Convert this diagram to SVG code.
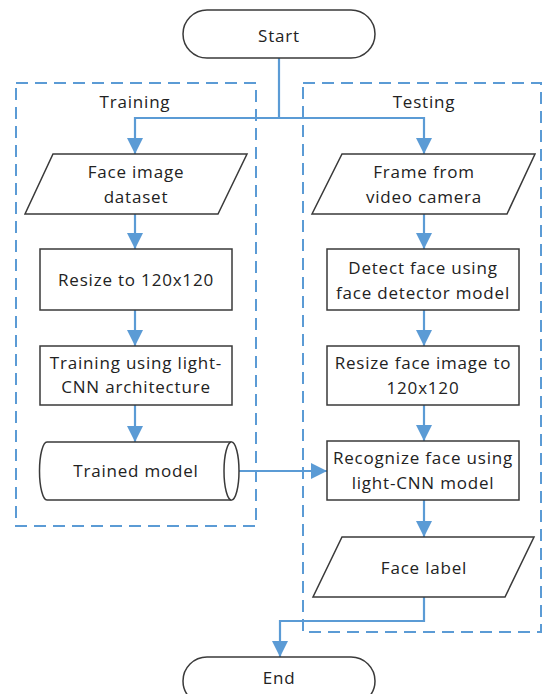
<svg xmlns="http://www.w3.org/2000/svg" width="544" height="694" viewBox="0 0 544 694">
  <defs>
    <marker id="arrow" markerUnits="userSpaceOnUse" markerWidth="16" markerHeight="16" viewBox="0 0 16 16" refX="16" refY="8" orient="auto">
      <path d="M0,0 L16,8 L0,16 Z" fill="#5B9BD5"/>
    </marker>
    <style>
      .shape { fill: #ffffff; stroke: #3a3a3a; stroke-width: 1.5; }
      .group { fill: none; stroke: #5B9BD5; stroke-width: 2; stroke-dasharray: 12 7; }
      .conn { fill: none; stroke: #5B9BD5; stroke-width: 2.2; }
      .label { font-family: "Open Sans", "Liberation Sans", sans-serif; font-size: 17px; letter-spacing: 0.8px; fill: #222222; text-anchor: middle; }
    </style>
  </defs>
  <rect width="544" height="694" fill="#ffffff"/>

  <!-- swimlane frames -->
  <g id="training-group">
    <rect class="group" x="16" y="83" width="240" height="443"/>
    <text class="label" x="135" y="108">Training</text>
  </g>
  <g id="testing-group">
    <rect class="group" x="303" y="83" width="238" height="549"/>
    <text class="label" x="424" y="108">Testing</text>
  </g>

  <!-- connectors -->
  <g id="connectors">
    <path class="conn" d="M279,58 V118 H135 V154" marker-end="url(#arrow)"/>
    <path class="conn" d="M279,118 H424 V154" marker-end="url(#arrow)"/>
    <path class="conn" d="M135,214 V249" marker-end="url(#arrow)"/>
    <path class="conn" d="M135,310 V346" marker-end="url(#arrow)"/>
    <path class="conn" d="M135,405 V442" marker-end="url(#arrow)"/>
    <path class="conn" d="M424,214 V249" marker-end="url(#arrow)"/>
    <path class="conn" d="M424,310 V346" marker-end="url(#arrow)"/>
    <path class="conn" d="M424,405 V441" marker-end="url(#arrow)"/>
    <path class="conn" d="M424,500 V537" marker-end="url(#arrow)"/>
    <path class="conn" d="M239,471 H327" marker-end="url(#arrow)"/>
    <path class="conn" d="M424,597 V621 H280 V657" marker-end="url(#arrow)"/>
  </g>

  <!-- terminals -->
  <g id="start">
    <rect class="shape" x="183" y="10" width="192" height="48" rx="24" ry="24"/>
    <text class="label" x="279" y="42">Start</text>
  </g>
  <g id="end">
    <rect class="shape" x="183" y="657" width="192" height="48" rx="24" ry="24"/>
    <text class="label" x="279" y="684">End</text>
  </g>

  <!-- training branch -->
  <g id="face-image-dataset">
    <polygon class="shape" points="53,154 247,154 218,214 25,214"/>
    <text class="label" x="136" y="178">Face image</text>
    <text class="label" x="136" y="203">dataset</text>
  </g>
  <g id="resize-train">
    <rect class="shape" x="40" y="249" width="192" height="61"/>
    <text class="label" x="136" y="286">Resize to 120x120</text>
  </g>
  <g id="train-model">
    <rect class="shape" x="40" y="346" width="192" height="59"/>
    <text class="label" x="136" y="369">Training using light-</text>
    <text class="label" x="136" y="393">CNN architecture</text>
  </g>
  <g id="trained-model">
    <path class="shape" d="M47,442 H231.5 A7.5,29 0 0 1 231.5,500 H47 A7.5,29 0 0 1 47,442 Z"/>
    <path class="shape" d="M231.5,442 A7.5,29 0 0 0 231.5,500" fill="none"/>
    <text class="label" x="136" y="477">Trained model</text>
  </g>

  <!-- testing branch -->
  <g id="video-frame">
    <polygon class="shape" points="342,154 535,154 507,214 312,214"/>
    <text class="label" x="424" y="178">Frame from</text>
    <text class="label" x="424" y="203">video camera</text>
  </g>
  <g id="detect-face">
    <rect class="shape" x="327" y="249" width="192" height="61"/>
    <text class="label" x="423" y="274">Detect face using</text>
    <text class="label" x="423" y="299">face detector model</text>
  </g>
  <g id="resize-test">
    <rect class="shape" x="327" y="346" width="192" height="59"/>
    <text class="label" x="423" y="369">Resize face image to</text>
    <text class="label" x="423" y="394">120x120</text>
  </g>
  <g id="recognize-face">
    <rect class="shape" x="327" y="441" width="192" height="59"/>
    <text class="label" x="423" y="464">Recognize face using</text>
    <text class="label" x="423" y="489">light-CNN model</text>
  </g>
  <g id="face-label">
    <polygon class="shape" points="342,537 534,537 505,597 313,597"/>
    <text class="label" x="424" y="574">Face label</text>
  </g>
</svg>
